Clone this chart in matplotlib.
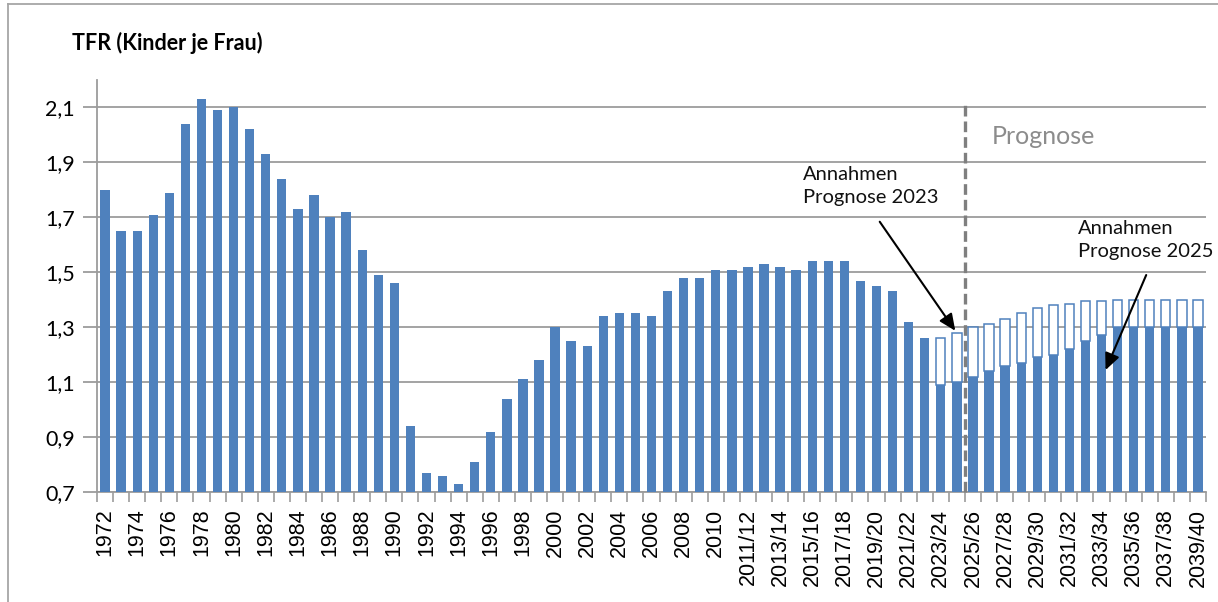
import numpy as np
import matplotlib
matplotlib.use("Agg")
import matplotlib.pyplot as plt

# ---------------- data ----------------
years_single = list(range(1972, 2011))
years_double = list(range(2010, 2040))
categories = [str(y) for y in years_single] + [f"{y}/{(y + 1) % 100:02d}" for y in years_double]

# TFR (observed, and from 2025/26 on: assumptions of Prognose 2025)
tfr = [1.80, 1.65, 1.65, 1.71, 1.79, 2.04, 2.13, 2.09, 2.10, 2.02,
       1.93, 1.84, 1.73, 1.78, 1.70, 1.72, 1.58, 1.49, 1.46, 0.94,
       0.77, 0.76, 0.73, 0.81, 0.92, 1.04, 1.11, 1.18, 1.30, 1.25,
       1.23, 1.34, 1.35, 1.35, 1.34, 1.43, 1.48, 1.48, 1.51, 1.51,
       1.52, 1.53, 1.52, 1.51, 1.54, 1.54, 1.54, 1.47, 1.45, 1.43,
       1.32, 1.26, 1.09, 1.10, 1.12, 1.14, 1.16, 1.17, 1.19, 1.20,
       1.22, 1.25, 1.27, 1.30, 1.30, 1.30, 1.30, 1.30, 1.30]

# Assumptions of Prognose 2023 (from 2023/24 on)
prognose2023_start = "2023/24"
prognose2023 = [1.26, 1.28, 1.30, 1.31, 1.33, 1.35, 1.37, 1.38, 1.385,
                1.395, 1.395, 1.40, 1.40, 1.40, 1.40, 1.40, 1.40]

prognose_boundary = ("2024/25", "2025/26")   # dashed line between these
y_ticks = [0.7, 0.9, 1.1, 1.3, 1.5, 1.7, 1.9, 2.1]

# ---------------- figure ----------------
BLUE = "#4F81BD"
GRID = "#9c9c9c"

fig = plt.figure(figsize=(12.18, 6.02), dpi=100)
ax = fig.add_axes([97 / 1218, 1 - 492 / 602, (1206 - 97) / 1218, (492 - 80) / 602])

x = np.arange(len(categories))
bw = 0.58
ax.bar(x, tfr, width=bw, color=BLUE, linewidth=0, zorder=3)

i0 = categories.index(prognose2023_start)
xp = x[i0:i0 + len(prognose2023)]
base = np.array(tfr[i0:i0 + len(prognose2023)])
ax.bar(xp, np.array(prognose2023) - base, bottom=base, width=bw,
       facecolor="white", edgecolor=BLUE, linewidth=1.1, zorder=3)

ax.set_xlim(-0.5, len(categories) - 0.5)
ax.set_ylim(0.7, 2.2)

ax.set_yticks(y_ticks)
ax.set_yticklabels([f"{v:.1f}".replace(".", ",") for v in y_ticks],
                   fontfamily="Lato", fontsize=15.5)
ax.yaxis.grid(True, color=GRID, linewidth=1.3, zorder=0)
ax.set_axisbelow(True)

ax.set_xticks(x[::2])
ax.set_xticklabels(categories[::2], rotation=90, fontfamily="Liberation Sans",
                   fontsize=15.5)
ax.set_xticks(np.arange(-0.5, len(categories)), minor=True)
ax.tick_params(axis="x", which="major", length=0, pad=12)
ax.tick_params(axis="x", which="minor", length=7, color=GRID, width=1.2)
ax.tick_params(axis="y", length=10, color=GRID, width=1.3, pad=6)

for s in ["top", "right"]:
    ax.spines[s].set_visible(False)
for s in ["left", "bottom"]:
    ax.spines[s].set_color(GRID)
    ax.spines[s].set_linewidth(1.3)

# dashed forecast boundary
xb = (categories.index(prognose_boundary[0]) + categories.index(prognose_boundary[1])) / 2
ax.plot([xb, xb], [0.7, 2.117], color="#7f7f7f", linewidth=2.4,
        dashes=(3.2, 1.5), zorder=4, clip_on=False)

ax.text(55.2, 1.993, "Prognose", color="#8c8c8c", fontsize=18,
        fontfamily="Lato", ha="left", va="center")

ax.text(43.4, 1.815, "Annahmen\nPrognose 2023", fontsize=14.5, fontfamily="Lato",
        ha="left", va="center", linespacing=1.4, color="#111111")
ax.text(60.55, 1.618, "Annahmen\nPrognose 2025", fontsize=14.5, fontfamily="Lato",
        ha="left", va="center", linespacing=1.4, color="#111111")

arrow = dict(arrowstyle="-|>,head_length=1.0,head_width=0.45", color="black",
             linewidth=1.5, shrinkA=0, shrinkB=0)
ax.annotate("", xy=(52.9, 1.287), xytext=(48.2, 1.684), arrowprops=arrow, zorder=5)
ax.annotate("", xy=(62.25, 1.144), xytext=(64.78, 1.49), arrowprops=arrow, zorder=5)

# title
fig.text(72 / 1218, 1 - 43 / 602, "TFR (Kinder je Frau)", fontsize=15.5,
         fontweight="bold", fontfamily="Lato", ha="left", va="center")

# figure frame (left and top)
fig.add_artist(plt.Line2D([8 / 1218, 8 / 1218], [0, 1 - 3.5 / 602],
                          transform=fig.transFigure, color="#a6a6a6", linewidth=1.3))
fig.add_artist(plt.Line2D([8 / 1218, 1], [1 - 3.5 / 602, 1 - 3.5 / 602],
                          transform=fig.transFigure, color="#a6a6a6", linewidth=1.3))

fig.savefig("out.png", dpi=100)
